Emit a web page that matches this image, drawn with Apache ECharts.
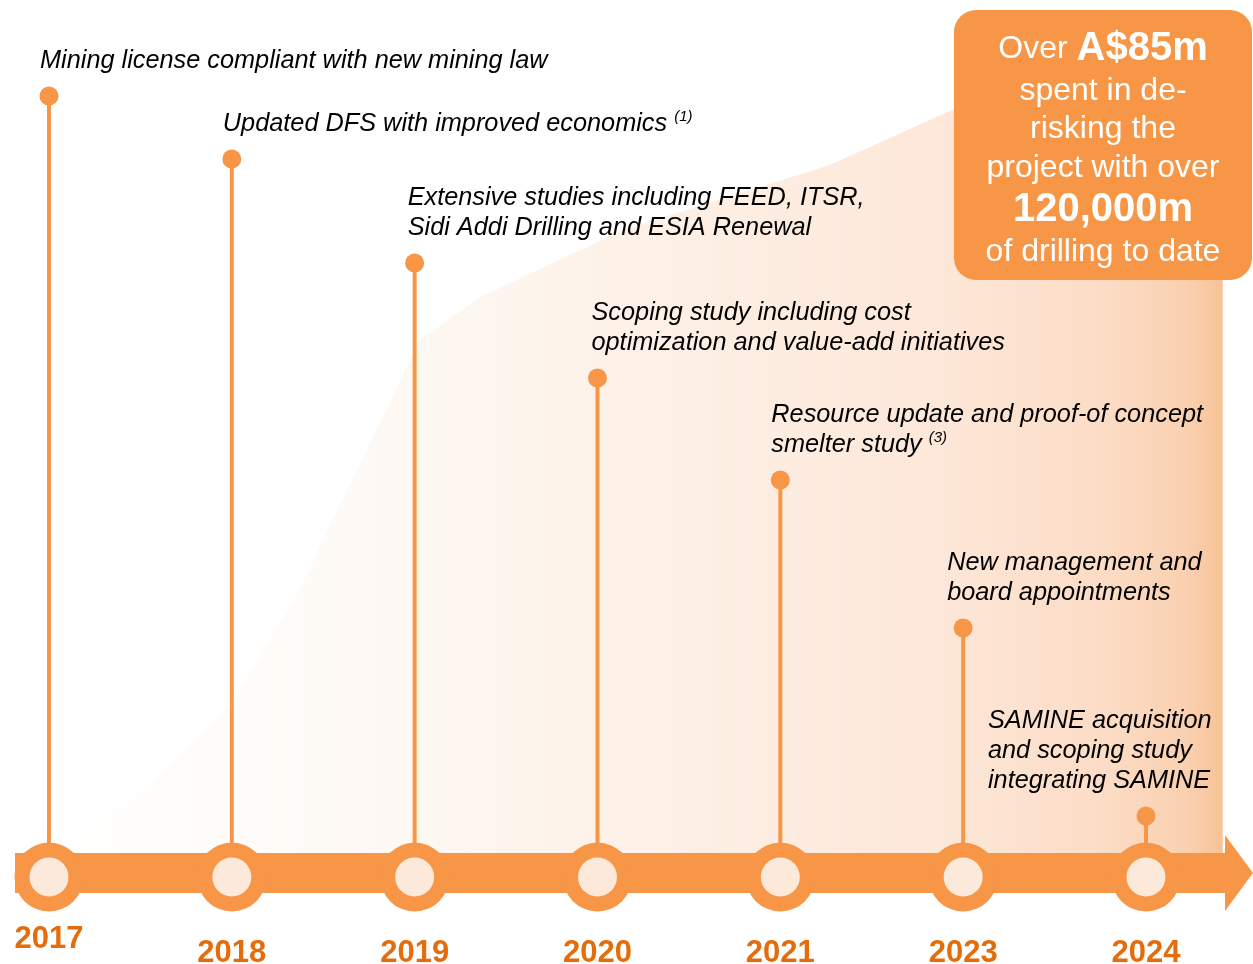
<!DOCTYPE html>
<html>
<head>
<meta charset="utf-8">
<script src="https://cdn.jsdelivr.net/npm/echarts@6/dist/echarts.min.js"></script>
<style>
html, body { margin: 0; background: #ffffff; }
#chart { width: 1253px; height: 964px; }
</style>
</head>
<body>
<div id="chart"></div>
<script>
// timeline data: one pin per year, pin height in % of the chart height above the timeline
var years = ['2017', '2018', '2019', '2020', '2021', '2023', '2024'];
var pinHeights = [89.05, 81.87, 70.01, 56.90, 45.27, 28.39, 6.96];
var events = [
    'Mining license compliant with new mining law',
    'Updated DFS with improved economics {sup|(1)}',
    'Extensive studies including FEED, ITSR,\nSidi Addi Drilling and ESIA Renewal',
    'Scoping study including cost\noptimization and value-add initiatives',
    'Resource update and proof-of concept\nsmelter study {sup|(3)}',
    'New management and\nboard appointments',
    'SAMINE acquisition\nand scoping study\nintegrating SAMINE'
];

// shaded "spend" area behind the timeline (x = year slot, y = height)
var spendX = [-0.02, 0.51, 1.01, 1.34, 2.03, 2.36, 3.14, 4.27, 4.94, 6.42, 6.42];
var spendY = [3.31, 9.58, 20.18, 31.58, 61.23, 66.13, 73.77, 81.19, 87.46, 97.7, 0];

var ORANGE = '#f79646';
var PALE = '#fde9d9';
var YEAR_COLOR = '#e46c0a';
var FONT = '"Liberation Sans", Arial, sans-serif';
// horizontal shift of each event caption from its pin
var LABEL_DX = [-9, -9, -7, -6, -9, -16, -158];

var chart = echarts.init(document.getElementById('chart'));

function renderTimeline(params, api) {
    var start = api.coord([api.value(0), 0]);
    var end = api.coord([api.value(1), 0]);
    var cy = start[1] - 4;
    var x0 = start[0] - 34;
    var x1 = end[0] + 79;
    return {
        type: 'group',
        children: [
            { type: 'rect', shape: { x: x0, y: cy - 20, width: x1 - x0, height: 40 }, style: { fill: ORANGE } },
            { type: 'polygon', shape: { points: [[x1, cy - 38], [x1 + 28, cy], [x1, cy + 38]] }, style: { fill: ORANGE } }
        ]
    };
}

function renderPin(params, api) {
    var i = params.dataIndex;
    var base = api.coord([api.value(0), 0]);
    var top = api.coord([api.value(0), api.value(1)]);
    var x = base[0];
    return {
        type: 'group',
        children: [
            { type: 'line', shape: { x1: x, y1: top[1], x2: x, y2: base[1] }, style: { stroke: ORANGE, lineWidth: 4 } },
            { type: 'circle', shape: { cx: x, cy: top[1], r: 9.5 }, style: { fill: ORANGE } },
            { type: 'circle', shape: { cx: x, cy: base[1], r: 34.5 }, style: { fill: ORANGE } },
            { type: 'circle', shape: { cx: x, cy: base[1], r: 19.5 }, style: { fill: PALE } },
            {
                type: 'text',
                style: {
                    text: years[i], x: x, y: base[1] + (i === 0 ? 62 : 76),
                    align: 'center', verticalAlign: 'middle',
                    fontFamily: FONT, fontWeight: 'bold', fontSize: 31, fill: YEAR_COLOR
                }
            },
            {
                type: 'text',
                style: {
                    text: events[i], x: x + LABEL_DX[i], y: top[1] - 20,
                    align: 'left', verticalAlign: 'bottom',
                    fontFamily: FONT, fontStyle: 'italic', fontSize: 25.3, lineHeight: 30, fill: '#000000',
                    rich: {
                        sup: { fontFamily: FONT, fontStyle: 'italic', fontSize: 15, lineHeight: 30, verticalAlign: 'top', padding: [0, 0, 12, 0], fill: '#000000' }
                    }
                }
            }
        ]
    };
}

var boxX = 1103;
function boxText(text, y, bold) {
    return {
        type: 'text',
        z: 101,
        style: {
            text: text, x: boxX, y: y, align: 'center', verticalAlign: 'middle',
            fontFamily: FONT, fontSize: bold ? 40 : 32, fontWeight: bold ? 'bold' : 'normal', fill: '#ffffff',
            rich: {
                r: { fontFamily: FONT, fontSize: 32, fill: '#ffffff' },
                b: { fontFamily: FONT, fontSize: 40, fontWeight: 'bold', fill: '#ffffff' }
            }
        }
    };
}

chart.setOption({
    animation: false,
    grid: { left: 3.29, top: 0, width: 1234.1, height: 877 },
    xAxis: { type: 'value', min: -0.25, max: 6.5, show: false },
    yAxis: { type: 'value', min: 0, max: 100, show: false },
    series: [
        {
            type: 'line',
            z: 1,
            data: spendX.map(function (x, k) { return [x, spendY[k]]; }),
            showSymbol: false,
            lineStyle: { width: 0 },
            areaStyle: {
                opacity: 1,
                color: new echarts.graphic.LinearGradient(0, 0, 1, 0, [
                    { offset: 0, color: '#ffffff' },
                    { offset: 0.25, color: '#fefaf6' },
                    { offset: 0.5, color: '#fdf1e7' },
                    { offset: 0.75, color: '#fde8da' },
                    { offset: 0.9, color: '#fcdcc5' },
                    { offset: 0.97, color: '#fad0b0' },
                    { offset: 1, color: '#f8c296' }
                ])
            }
        },
        {
            type: 'custom',
            z: 2,
            renderItem: renderTimeline,
            data: [[0, years.length - 1]]
        },
        {
            type: 'custom',
            z: 3,
            renderItem: renderPin,
            data: years.map(function (y, i) { return [i, pinHeights[i]]; })
        }
    ],
    graphic: [
        { type: 'rect', z: 100, shape: { x: 954, y: 10, width: 298, height: 270, r: 22 }, style: { fill: ORANGE } },
        boxText('{r|Over }{b|A$85m}', 49, false),
        boxText('spent in de-', 91, false),
        boxText('risking the', 129, false),
        boxText('project with over', 168, false),
        boxText('120,000m', 210, true),
        boxText('of drilling to date', 252, false)
    ]
});
</script>
</body>
</html>
